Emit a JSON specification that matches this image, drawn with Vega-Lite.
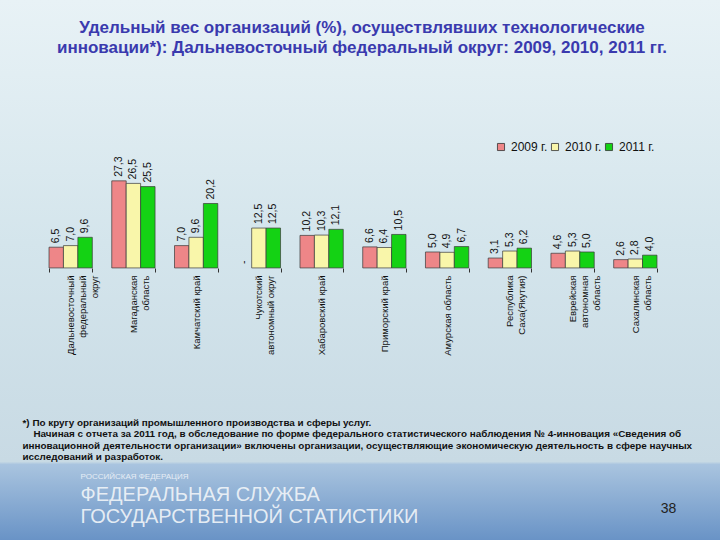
{
  "$schema": "https://vega.github.io/schema/vega-lite/v6.json",
  "width": 720,
  "height": 540,
  "autosize": "none",
  "padding": 0,
  "background": "#d6e6ed",
  "config": {
    "locale": {"number": {"decimal": ",", "thousands": " ", "grouping": [3], "currency": ["", ""]}},
    "scale": {"invalid": {"y": "zero-or-min"}},
    "view": {
      "stroke": null,
      "fill": {
        "gradient": "linear", "x1": 0, "y1": 0, "x2": 0, "y2": 1,
        "stops": [
          {"offset": 0, "color": "#e8f2f6"},
          {"offset": 0.45, "color": "#d4e5ec"},
          {"offset": 0.855, "color": "#c8dae4"},
          {"offset": 0.86, "color": "#a9c4df"},
          {"offset": 1, "color": "#6993c6"}
        ]
      }
    }
  },
  "title": {
    "text": ["Удельный вес организаций (%), осуществлявших технологические", "инновации*): Дальневосточный федеральный округ: 2009, 2010, 2011 гг."],
    "orient": "top",
    "frame": "group",
    "anchor": "middle",
    "baseline": "top",
    "offset": -57,
    "dx": 2,
    "font": "Liberation Sans",
    "fontSize": 17,
    "fontWeight": "bold",
    "color": "#3a3aae",
    "lineHeight": 20
  },
  "data": {
    "values": [
      {"region": "Дальневосточный\nфедеральный\nокруг", "year": "2009 г.", "value": 6.5},
      {"region": "Дальневосточный\nфедеральный\nокруг", "year": "2010 г.", "value": 7.0},
      {"region": "Дальневосточный\nфедеральный\nокруг", "year": "2011 г.", "value": 9.6},
      {"region": "Магаданская\nобласть", "year": "2009 г.", "value": 27.3},
      {"region": "Магаданская\nобласть", "year": "2010 г.", "value": 26.5},
      {"region": "Магаданская\nобласть", "year": "2011 г.", "value": 25.5},
      {"region": "Камчатский край", "year": "2009 г.", "value": 7.0},
      {"region": "Камчатский край", "year": "2010 г.", "value": 9.6},
      {"region": "Камчатский край", "year": "2011 г.", "value": 20.2},
      {"region": "Чукотский\nавтономный округ", "year": "2009 г.", "value": null},
      {"region": "Чукотский\nавтономный округ", "year": "2010 г.", "value": 12.5},
      {"region": "Чукотский\nавтономный округ", "year": "2011 г.", "value": 12.5},
      {"region": "Хабаровский край", "year": "2009 г.", "value": 10.2},
      {"region": "Хабаровский край", "year": "2010 г.", "value": 10.3},
      {"region": "Хабаровский край", "year": "2011 г.", "value": 12.1},
      {"region": "Приморский край", "year": "2009 г.", "value": 6.6},
      {"region": "Приморский край", "year": "2010 г.", "value": 6.4},
      {"region": "Приморский край", "year": "2011 г.", "value": 10.5},
      {"region": "Амурская область", "year": "2009 г.", "value": 5.0},
      {"region": "Амурская область", "year": "2010 г.", "value": 4.9},
      {"region": "Амурская область", "year": "2011 г.", "value": 6.7},
      {"region": "Республика\nСаха(Якутия)", "year": "2009 г.", "value": 3.1},
      {"region": "Республика\nСаха(Якутия)", "year": "2010 г.", "value": 5.3},
      {"region": "Республика\nСаха(Якутия)", "year": "2011 г.", "value": 6.2},
      {"region": "Еврейская\nавтономная\nобласть", "year": "2009 г.", "value": 4.6},
      {"region": "Еврейская\nавтономная\nобласть", "year": "2010 г.", "value": 5.3},
      {"region": "Еврейская\nавтономная\nобласть", "year": "2011 г.", "value": 5.0},
      {"region": "Сахалинская\nобласть", "year": "2009 г.", "value": 2.6},
      {"region": "Сахалинская\nобласть", "year": "2010 г.", "value": 2.8},
      {"region": "Сахалинская\nобласть", "year": "2011 г.", "value": 4.0}
    ]
  },
  "layer": [
    {
      "transform": [{"filter": "datum.value !== null"}],
      "mark": {"type": "bar", "stroke": "#3a3a3a", "strokeWidth": 0.7},
      "encoding": {
        "x": {
          "field": "region", "type": "nominal", "sort": null,
          "scale": {"paddingInner": 0.31, "paddingOuter": 0.893, "align": 0.4375},
          "axis": {
            "orient": "bottom", "offset": -272, "domain": false, "grid": false,
            "ticks": true, "tickBand": "extent", "tickSize": 4, "tickColor": "#333333", "tickWidth": 1,
            "labelAngle": 270, "labelPadding": 3, "labelFont": "Liberation Sans", "labelFontSize": 9.5,
            "labelColor": "#111111", "labelLineHeight": 12, "labelExpr": "split(datum.label, '\\n')",
            "title": [
              "*) По кругу организаций промышленного производства и сферы услуг.",
              "\u200b\u00a0\u00a0\u00a0\u00a0Начиная с отчета за 2011 год, в обследование по форме федерального статистического наблюдения № 4-инновация «Сведения об",
              "инновационной деятельности организации» включены организации, осуществляющие экономическую деятельность в сфере научных",
              "исследований и разработок."
            ],
            "titleX": 22, "titleY": 149, "titleAlign": "left", "titleAnchor": "start", "titleBaseline": "top", "titleAngle": 0,
            "titleFont": "Liberation Sans", "titleFontSize": 9.9, "titleFontWeight": "bold",
            "titleColor": "#111111", "titleLineHeight": 11.5, "titleLimit": 2000
          }
        },
        "xOffset": {"field": "year", "type": "nominal", "sort": ["2009 г.", "2010 г.", "2011 г."]},
        "y": {
          "field": "value", "type": "quantitative", "stack": null,
          "scale": {"domain": [-85.3, 84.0], "nice": false, "zero": false},
          "axis": {
            "orient": "left", "domain": false, "ticks": false, "labels": false, "grid": false,
            "title": ["ФЕДЕРАЛЬНАЯ СЛУЖБА", "ГОСУДАРСТВЕННОЙ СТАТИСТИКИ"],
            "titleAngle": 0, "titleX": 80, "titleY": 484, "titleAlign": "left", "titleAnchor": "start", "titleBaseline": "top",
            "titleFont": "Liberation Sans", "titleFontSize": 20, "titleFontWeight": "normal",
            "titleColor": "#f0f4f8", "titleOpacity": 0.92, "titleLineHeight": 22, "titleLimit": 2000
          }
        },
        "color": {
          "field": "year", "type": "nominal",
          "scale": {
            "domain": ["2009 г.", "2010 г.", "2011 г."],
            "range": ["#ee8688", "#f9f6aa", "#14d214"]
          },
          "legend": {
            "orient": "none", "legendX": 495, "legendY": 141, "direction": "horizontal", "title": null,
            "symbolType": "square", "symbolSize": 50, "symbolStrokeColor": "#333333", "symbolStrokeWidth": 0.8, "symbolOpacity": 1,
            "labelFont": "Liberation Sans", "labelFontSize": 12, "labelColor": "#111111", "labelOffset": 4, "columnPadding": 1
          }
        }
      }
    },
    {
      "mark": {"type": "text", "angle": 270, "align": "left", "baseline": "middle", "dx": 4, "font": "Liberation Sans", "fontSize": 10.5, "color": "#111111", "invalid": "show"},
      "encoding": {
        "x": {
          "field": "region", "type": "nominal", "sort": null,
          "axis": {
            "orient": "top", "domain": false, "ticks": false, "labels": false, "grid": false,
            "title": "РОССИЙСКАЯ ФЕДЕРАЦИЯ", "titleX": 80, "titleY": 476, "titleAlign": "left", "titleAnchor": "start",
            "titleBaseline": "middle", "titleAngle": 0, "titleFont": "Liberation Sans", "titleFontSize": 8, "titleFontWeight": "normal",
            "titleColor": "#e6edf5", "titleLimit": 2000
          }
        },
        "xOffset": {"field": "year", "type": "nominal", "sort": ["2009 г.", "2010 г.", "2011 г."]},
        "y": {
          "field": "value", "type": "quantitative", "stack": null,
          "axis": {
            "orient": "right", "domain": false, "ticks": false, "labels": false, "grid": false,
            "title": "38", "titleAngle": 0, "titleX": -52, "titleY": 508, "titleAlign": "center", "titleBaseline": "middle",
            "titleFont": "Liberation Sans", "titleFontSize": 14, "titleFontWeight": "normal", "titleColor": "#222222"
          }
        },
        "text": {"condition": {"test": "datum.value === null", "value": "-"}, "field": "value", "type": "quantitative", "format": ".1f"}
      }
    }
  ],
  "resolve": {"axis": {"x": "independent", "y": "independent"}}
}
